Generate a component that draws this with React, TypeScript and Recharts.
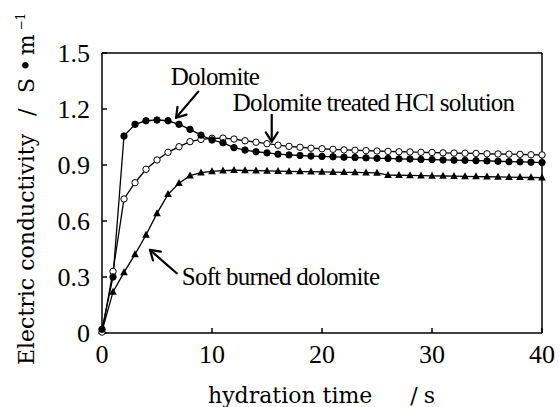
import React from 'react';
import { LineChart, Line, XAxis, YAxis, ReferenceLine, ReferenceDot } from 'recharts';

// hydration time (s), one reading per second
const time = [
  0, 1, 2, 3, 4, 5, 6, 7, 8, 9, 10, 11, 12, 13, 14, 15, 16, 17, 18, 19, 20,
  21, 22, 23, 24, 25, 26, 27, 28, 29, 30, 31, 32, 33, 34, 35, 36, 37, 38, 39, 40,
];

// electric conductivity (S/m)
const dolomite = [
  0.02, 0.3, 1.055, 1.118, 1.137, 1.141, 1.137, 1.118, 1.091, 1.06, 1.034,
  1.019, 0.993, 0.98, 0.971, 0.965, 0.958, 0.954, 0.951, 0.948, 0.946,
  0.944, 0.942, 0.94, 0.938, 0.936, 0.935, 0.933, 0.932, 0.93, 0.929,
  0.927, 0.926, 0.925, 0.923, 0.922, 0.92, 0.918, 0.917, 0.915, 0.913,
];

const treatedHCl = [
  0.005, 0.33, 0.718, 0.805, 0.877, 0.927, 0.968, 0.998, 1.025, 1.037, 1.043,
  1.044, 1.039, 1.03, 1.022, 1.014, 1.006, 1.0, 0.995, 0.99, 0.987,
  0.984, 0.981, 0.979, 0.977, 0.975, 0.973, 0.971, 0.97, 0.968, 0.967,
  0.965, 0.964, 0.963, 0.962, 0.96, 0.959, 0.958, 0.957, 0.955, 0.954,
];

const softBurned = [
  0.01, 0.22, 0.325, 0.421, 0.525, 0.641, 0.743, 0.802, 0.843, 0.859, 0.866,
  0.87, 0.872, 0.871, 0.87, 0.868, 0.867, 0.866, 0.865, 0.864, 0.863,
  0.862, 0.861, 0.86, 0.859, 0.858, 0.846, 0.845, 0.844, 0.843, 0.842,
  0.841, 0.84, 0.839, 0.838, 0.837, 0.836, 0.835, 0.834, 0.833, 0.832,
];

const xTicks = [0, 10, 20, 30, 40];
const yTicks = [0, 0.3, 0.6, 0.9, 1.2, 1.5];

const data = time.map((t, i) => ({
  t,
  dolomite: dolomite[i],
  hcl: treatedHCl[i],
  soft: softBurned[i],
}));

const SERIF = "'Liberation Serif', 'Times New Roman', Times, serif";
const WIDE_SERIF = "'DejaVu Serif', 'Liberation Serif', serif";

const TICK_FONT = { fontFamily: SERIF, fontSize: 26, fill: '#000' };

const Triangle = (props: any) => {
  const { cx, cy, index } = props;
  if (cx == null || cy == null) return null;
  return (
    <polygon
      key={`tri-${index}`}
      points={`${cx},${cy - 4.2} ${cx - 3.8},${cy + 2.8} ${cx + 3.8},${cy + 2.8}`}
      fill="#000"
    />
  );
};

// arrow from (x1,y1) to (x2,y2) with an open head at the second point
const Arrow = (props: any) => {
  const { x1, y1, x2, y2 } = props;
  const a = Math.atan2(y2 - y1, x2 - x1);
  const len = 11;
  const spread = Math.PI / 5.5;
  const hx1 = x2 - len * Math.cos(a - spread);
  const hy1 = y2 - len * Math.sin(a - spread);
  const hx2 = x2 - len * Math.cos(a + spread);
  const hy2 = y2 - len * Math.sin(a + spread);
  return (
    <g stroke="#000" strokeWidth={2.2} fill="none" strokeLinecap="round" strokeLinejoin="round">
      <line x1={x1} y1={y1} x2={x2} y2={y2} />
      <polyline points={`${hx1},${hy1} ${x2},${y2} ${hx2},${hy2}`} />
    </g>
  );
};

const note = (text: string) => (props: any) => (
  <text
    x={props.cx}
    y={props.cy}
    style={{ fontFamily: SERIF, fontSize: 25, letterSpacing: -0.75 }}
    fill="#000"
  >
    {text}
  </text>
);

const YTitle = (props: any) => {
  const vb = props.viewBox;
  const x = vb.x + 34;
  const y = vb.y + vb.height + 32;
  return (
    <text
      x={x}
      y={y}
      transform={`rotate(-90, ${x}, ${y})`}
      style={{ fontFamily: WIDE_SERIF, fontSize: 22 }}
      fill="#000"
    >
      <tspan>Electric conductivity</tspan>
      <tspan dx={18}>/</tspan>
      <tspan dx={15.6}>S</tspan>
      <tspan dx={6}>•</tspan>
      <tspan dx={3.5}>m</tspan>
      <tspan dx={4} dy={-9} style={{ fontSize: 12 }}>−1</tspan>
    </text>
  );
};

const XTitle = (props: any) => {
  const vb = props.viewBox;
  return (
    <text x={vb.x + 106} y={vb.y + 70} style={{ fontFamily: WIDE_SERIF, fontSize: 22 }} fill="#000">
      <tspan>hydration time</tspan>
      <tspan dx={38}>/</tspan>
      <tspan dx={6}>s</tspan>
    </text>
  );
};

export default function App() {
  return (
    <div style={{ position: 'absolute', left: 0, top: 0, background: '#fff', fontFamily: SERIF }}>
      <LineChart
        width={560}
        height={407}
        data={data}
        margin={{ top: 53, right: 18, bottom: 0, left: 0 }}
      >
        <XAxis
          dataKey="t"
          type="number"
          domain={[0, 40]}
          ticks={xTicks}
          interval={0}
          tickSize={-5}
          tickMargin={17}
          stroke="#000"
          strokeWidth={1.5}
          tick={TICK_FONT}
          height={74}
          label={<XTitle />}
        />
        <YAxis
          type="number"
          domain={[0, 1.5]}
          ticks={yTicks}
          interval={0}
          tickSize={-5}
          tickMargin={17}
          stroke="#000"
          strokeWidth={1.5}
          tick={TICK_FONT}
          width={102}
          tickFormatter={(v: number) => (v === 0 ? '0' : v.toFixed(1))}
          label={<YTitle />}
        />
        <ReferenceLine y={1.5} stroke="#000" strokeWidth={1.5} />
        <ReferenceLine x={40} stroke="#000" strokeWidth={1.5} />

        <Line
          dataKey="soft"
          type="linear"
          stroke="#000"
          strokeWidth={1.3}
          dot={Triangle}
          isAnimationActive={false}
        />
        <Line
          dataKey="hcl"
          type="linear"
          stroke="#000"
          strokeWidth={1.3}
          dot={{ r: 3.2, fill: '#fff', stroke: '#000', strokeWidth: 1 }}
          isAnimationActive={false}
        />
        <Line
          dataKey="dolomite"
          type="linear"
          stroke="#000"
          strokeWidth={1.3}
          dot={{ r: 3.2, fill: '#000', stroke: '#000', strokeWidth: 1 }}
          isAnimationActive={false}
        />

        <ReferenceLine
          segment={[{ x: 8.75, y: 1.293 }, { x: 6.73, y: 1.153 }]}
          shape={Arrow}
        />
        <ReferenceLine
          segment={[{ x: 15.43, y: 1.168 }, { x: 15.43, y: 1.025 }]}
          shape={Arrow}
        />
        <ReferenceLine
          segment={[{ x: 6.79, y: 0.32 }, { x: 4.36, y: 0.445 }]}
          shape={Arrow}
        />

        <ReferenceDot x={6.25} y={1.329} r={0} shape={note('Dolomite')} />
        <ReferenceDot x={11.88} y={1.189} r={0} shape={note('Dolomite treated HCl solution')} />
        <ReferenceDot x={7.25} y={0.257} r={0} shape={note('Soft burned dolomite')} />
      </LineChart>
    </div>
  );
}
